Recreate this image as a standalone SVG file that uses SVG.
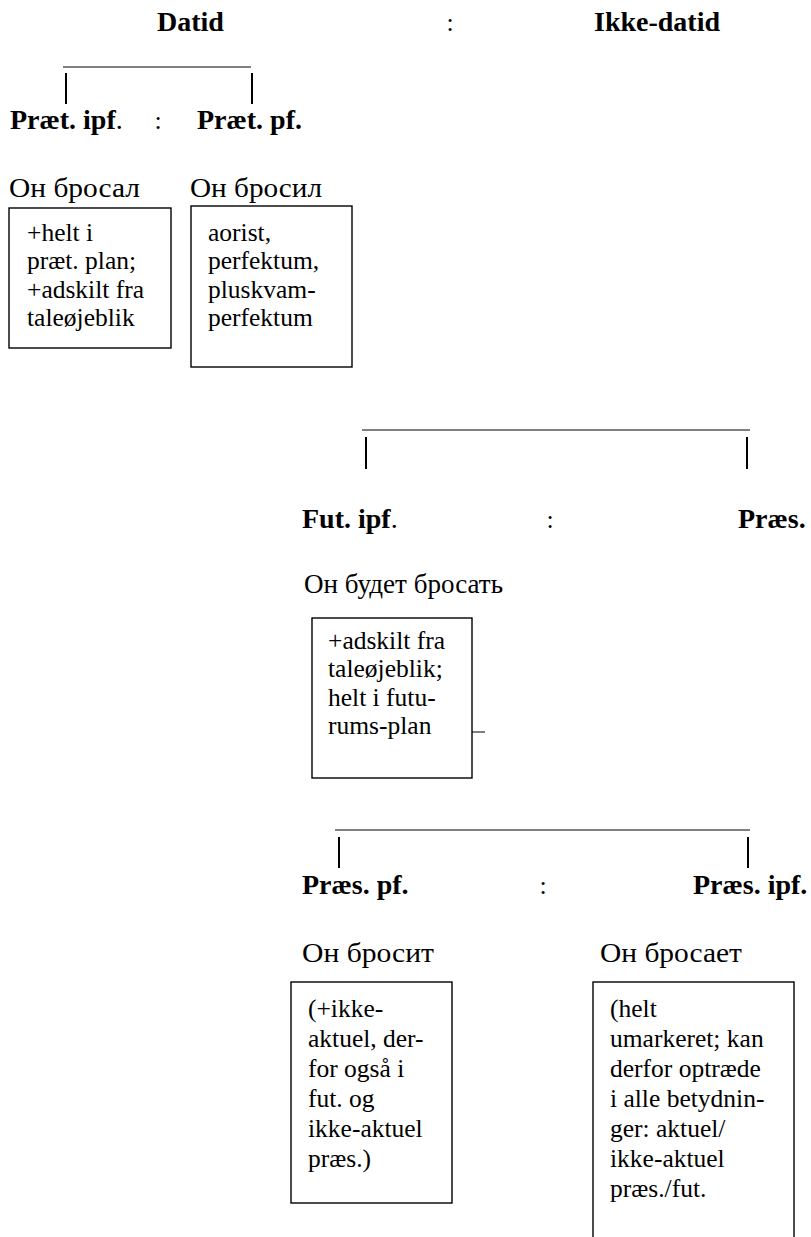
<svg xmlns="http://www.w3.org/2000/svg" width="811" height="1237" viewBox="0 0 811 1237">
<style>
text{font-family:'Liberation Serif','DejaVu Serif',serif;fill:#000}
.h{font-weight:bold;font-size:28px}
.n{font-weight:normal}
.c{font-size:26px;text-anchor:middle}
.ru{font-size:27px}
.t{font-size:25.5px}
.box{fill:#fff;stroke:#000;stroke-width:1.4}
.hl{stroke:#000;stroke-width:1}
.tk{stroke:#000;stroke-width:2}
</style>
<rect width="811" height="1237" fill="#fff"/>

<g id="connectors">
<line class="hl" x1="63" y1="67" x2="251" y2="67"/>
<line class="tk" x1="66" y1="73" x2="66" y2="104"/>
<line class="tk" x1="252" y1="73" x2="252" y2="104"/>
<line class="hl" x1="362" y1="430" x2="750" y2="430"/>
<line class="tk" x1="366" y1="437" x2="366" y2="469"/>
<line class="tk" x1="747" y1="437" x2="747" y2="469"/>
<line class="hl" x1="335" y1="830" x2="750" y2="830"/>
<line class="tk" x1="339" y1="837" x2="339" y2="868"/>
<line class="tk" x1="748" y1="837" x2="748" y2="868"/>
<line class="hl" x1="472" y1="732" x2="485" y2="732"/>
</g>

<g id="row1">
<text class="h" x="157" y="31">Datid</text>
<text class="c" x="450" y="31">:</text>
<text class="h" x="594" y="31">Ikke-datid</text>
</g>

<g id="row2">
<text class="h" x="10" y="129">Præt. ipf<tspan class="n">.</tspan></text>
<text class="c" x="158" y="129">:</text>
<text class="h" x="197" y="129">Præt. pf.</text>
</g>

<g id="praet-ipf">
<text class="ru" x="9" y="197" textLength="131" lengthAdjust="spacingAndGlyphs">Он бросал</text>
<rect class="box" x="9" y="208" width="162" height="140"/>
<text class="t" x="27" y="241">+helt i</text>
<text class="t" x="27" y="269.3">præt. plan;</text>
<text class="t" x="27" y="297.6">+adskilt fra</text>
<text class="t" x="27" y="325.9">taleøjeblik</text>
</g>

<g id="praet-pf">
<text class="ru" x="190" y="197" textLength="132" lengthAdjust="spacingAndGlyphs">Он бросил</text>
<rect class="box" x="191" y="206" width="161" height="161"/>
<text class="t" x="208" y="241">aorist,</text>
<text class="t" x="208" y="269.3">perfektum,</text>
<text class="t" x="208" y="297.6">pluskvam-</text>
<text class="t" x="208" y="325.9">perfektum</text>
</g>

<g id="row3">
<text class="h" x="302" y="528">Fut. ipf<tspan class="n">.</tspan></text>
<text class="c" x="550" y="528">:</text>
<text class="h" x="738" y="528">Præs.</text>
</g>

<g id="fut-ipf">
<text class="ru" x="304" y="593" textLength="199" lengthAdjust="spacingAndGlyphs">Он будет бросать</text>
<rect class="box" x="312" y="618" width="160" height="160"/>
<text class="t" x="328" y="649">+adskilt fra</text>
<text class="t" x="328" y="677.3">taleøjeblik;</text>
<text class="t" x="328" y="705.6">helt i futu-</text>
<text class="t" x="328" y="733.9">rums-plan</text>
</g>

<g id="row4">
<text class="h" x="302" y="894">Præs. pf.</text>
<text class="c" x="543" y="894">:</text>
<text class="h" x="693" y="894">Præs. ipf.</text>
</g>

<g id="praes-pf">
<text class="ru" x="302" y="962" textLength="132" lengthAdjust="spacingAndGlyphs">Он бросит</text>
<rect class="box" x="291" y="982" width="161" height="221"/>
<text class="t" x="308" y="1017">(+ikke-</text>
<text class="t" x="308" y="1047">aktuel, der-</text>
<text class="t" x="308" y="1077">for også i</text>
<text class="t" x="308" y="1107">fut. og</text>
<text class="t" x="308" y="1137">ikke-aktuel</text>
<text class="t" x="308" y="1167">præs.)</text>
</g>

<g id="praes-ipf">
<text class="ru" x="600" y="962" textLength="142" lengthAdjust="spacingAndGlyphs">Он бросает</text>
<rect class="box" x="593" y="982" width="201" height="270"/>
<text class="t" x="610" y="1017">(helt</text>
<text class="t" x="610" y="1047">umarkeret; kan</text>
<text class="t" x="610" y="1077">derfor optræde</text>
<text class="t" x="610" y="1107">i alle betydnin-</text>
<text class="t" x="610" y="1137">ger: aktuel/</text>
<text class="t" x="610" y="1167">ikke-aktuel</text>
<text class="t" x="610" y="1197">præs./fut.</text>
</g>
</svg>
